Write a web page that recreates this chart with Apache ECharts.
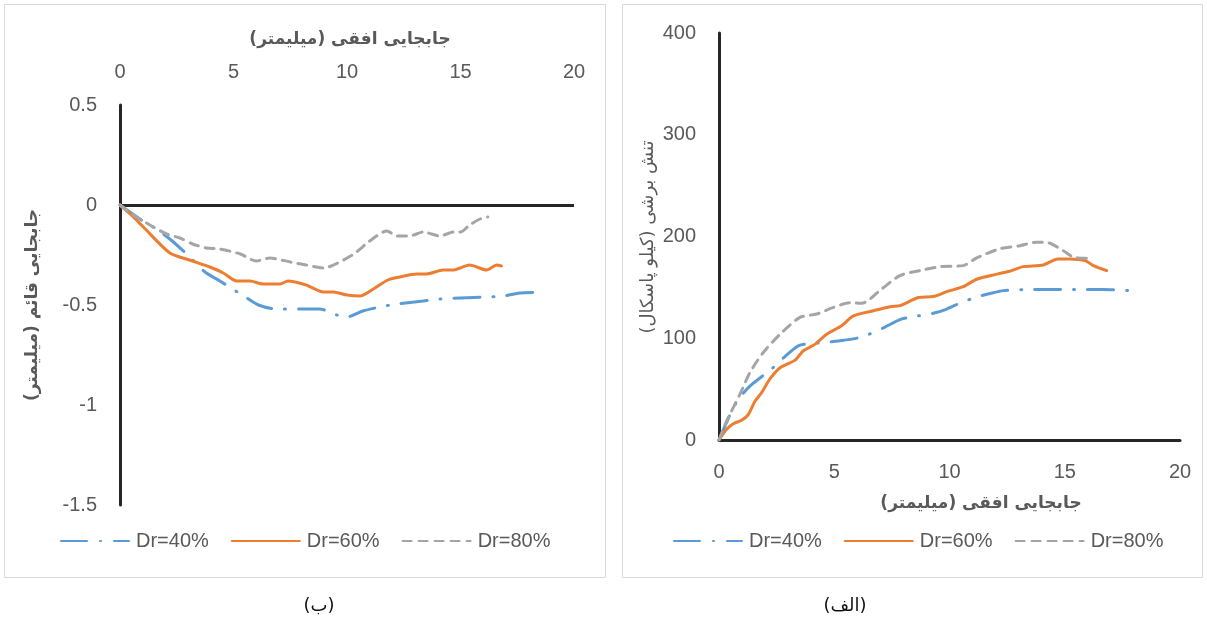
<!DOCTYPE html>
<html>
<head>
<meta charset="utf-8">
<script src="https://cdn.jsdelivr.net/npm/echarts@6.0.0/dist/echarts.min.js"></script>
<style>
  html, body { margin: 0; padding: 0; background: #fff; }
  #main { width: 1207px; height: 624px; }
</style>
</head>
<body>
<div id="main"></div>
<script>
// series names
const seriesNames = ['Dr=40%', 'Dr=60%', 'Dr=80%'];

// (ب) vertical displacement vs horizontal displacement (mm)
const vertDr40 = [[0,0],[1.0,-0.08],[1.6,-0.12],[2.3,-0.18],[3.07,-0.26],[3.74,-0.335],[4.4,-0.38],[5.45,-0.455],[6.1,-0.5],[6.9,-0.52],[7.9,-0.52],[8.8,-0.52],[9.55,-0.55],[10.0,-0.56],[10.7,-0.53],[11.45,-0.51],[12.2,-0.495],[13.36,-0.48],[14.1,-0.47],[15.0,-0.465],[16.15,-0.46],[16.9,-0.455],[17.6,-0.44],[18.2,-0.437]];
const vertDr60 = [[0,0],[0.5,-0.05],[1.03,-0.11],[2.2,-0.24],[3.2,-0.28],[3.96,-0.31],[4.55,-0.34],[5.14,-0.38],[5.73,-0.38],[6.3,-0.395],[7.05,-0.395],[7.4,-0.38],[8.2,-0.4],[8.96,-0.435],[9.4,-0.435],[10.0,-0.45],[10.57,-0.455],[11.16,-0.42],[11.8,-0.375],[12.33,-0.36],[13.07,-0.345],[13.5,-0.345],[14.24,-0.325],[14.7,-0.325],[15.4,-0.3],[16.15,-0.325],[16.6,-0.3],[16.8,-0.305]];
const vertDr80 = [[0,0],[0.59,-0.05],[1.32,-0.1],[2.05,-0.145],[2.64,-0.165],[3.2,-0.195],[3.8,-0.215],[4.4,-0.22],[5.3,-0.245],[6.0,-0.28],[6.6,-0.265],[7.5,-0.285],[8.2,-0.3],[9.0,-0.315],[9.5,-0.295],[10.3,-0.245],[11.0,-0.18],[11.75,-0.13],[12.2,-0.155],[12.76,-0.155],[13.36,-0.135],[14.1,-0.155],[14.7,-0.135],[15.0,-0.135],[15.4,-0.1],[15.86,-0.07],[16.2,-0.06]];

// (الف) shear stress (kPa) vs horizontal displacement (mm)
const shearDr40 = [[0,0],[0.48,25],[0.84,40],[1.34,53],[2.29,70],[2.86,82],[3.44,92.6],[4.09,95],[4.67,96],[5.4,98],[6.12,100.8],[6.7,105.7],[7.2,111],[7.93,119],[8.65,122],[9.3,124.5],[9.88,128.7],[10.5,135],[11.25,141],[11.76,144],[12.33,146.8],[13.2,147.8],[13.9,148],[15.08,147.8],[15.88,147.8],[16.67,147.8],[17.9,146.8]];
const shearDr60 = [[0,0],[0.33,10.5],[0.62,16],[0.98,19.4],[1.27,25],[1.56,38],[1.85,46.6],[2.21,60],[2.65,71],[3.3,78.5],[3.66,87.7],[4.16,94],[4.67,104],[5.32,112.3],[5.83,122],[6.7,127],[7.42,131],[7.85,132],[8.65,140],[9.3,141],[9.88,145.8],[10.6,150.7],[11.18,158],[12.05,163],[12.6,165.8],[13.2,170.4],[14.07,172],[14.7,178],[15.23,178],[15.88,176.4],[16.24,171.4],[16.82,166.5]];
const shearDr80 = [[0,0],[0.33,18.7],[0.91,45],[1.34,66.3],[1.92,86],[2.65,104],[3.51,120.5],[4.24,123.8],[4.96,130.3],[5.68,135],[6.19,134.3],[7.06,148.5],[7.85,161.6],[8.72,166.5],[9.59,170.4],[10.6,171.4],[11.18,179],[12.19,188],[13.06,191],[13.78,194.4],[14.29,193.8],[14.94,186],[15.38,179.6],[15.95,178.6]];

// axis text
const xTitle = 'جابجایی افقی (میلیمتر)';
const leftYTitle = 'جابجایی قائم (میلیمتر)';
const rightYTitle = 'تنش برشی (کیلو پاسکال)';
const captions = ['(ب)', '(الف)'];

const LATIN = "'Liberation Sans', 'DejaVu Sans', sans-serif";
const PERSIAN = "'DejaVu Sans', sans-serif";
const TXT = '#595959';
const AXIS = '#262626';

const lineStyles = [
    { color: '#5B9BD5', width: 3, type: [26, 13, 1, 13], cap: 'round' },
    { color: '#ED7D31', width: 3, type: 'solid', cap: 'round' },
    { color: '#A5A5A5', width: 3, type: [9, 7], cap: 'round' }
];

function makeSeries(name, data, idx, styleIdx) {
    return {
        name: name,
        type: 'line',
        xAxisIndex: idx,
        yAxisIndex: idx,
        data: data,
        smooth: 0.25,
        symbol: 'none',
        showSymbol: false,
        color: lineStyles[styleIdx].color,
        lineStyle: lineStyles[styleIdx],
        z: 3
    };
}

function valueAxis(opts) {
    return Object.assign({
        type: 'value',
        splitLine: { show: false },
        axisTick: { show: false },
        axisLabel: { color: TXT, fontSize: 20, fontFamily: LATIN, margin: 23 },
        axisLine: { show: true, onZero: false, lineStyle: { color: AXIS, width: 3 } }
    }, opts);
}

let chart = echarts.init(document.getElementById('main'), null, { renderer: 'canvas' });

let leftSeries = [
    makeSeries(seriesNames[0], vertDr40, 0, 0),
    makeSeries(seriesNames[1], vertDr60, 0, 1),
    makeSeries(seriesNames[2], vertDr80, 0, 2)
];
// black line at y = 0 in panel (ب)
leftSeries[0].markLine = {
    silent: true,
    symbol: ['none', 'none'],
    label: { show: false },
    lineStyle: { color: AXIS, width: 3, type: 'solid' },
    emphasis: { disabled: true },
    data: [{ yAxis: 0 }],
    z: 2
};

let rightSeries = [
    makeSeries(seriesNames[0], shearDr40, 1, 0),
    makeSeries(seriesNames[1], shearDr60, 1, 1),
    makeSeries(seriesNames[2], shearDr80, 1, 2)
];

let legendBase = {
    data: seriesNames,
    orient: 'horizontal',
    top: 531,
    padding: 0,
    itemWidth: 68,
    itemHeight: 14,
    itemGap: 22,
    // hide the circle that line series put in the legend icon
    itemStyle: { color: 'rgba(0,0,0,0)', borderWidth: 0, opacity: 0 },
    textStyle: { color: TXT, fontSize: 20, fontFamily: LATIN, padding: [0, 0, 0, 2] }
};

let option = {
    animation: false,
    backgroundColor: '#ffffff',
    grid: [
        { left: 120, top: 105, width: 454, height: 400 },
        { left: 719, top: 33, width: 461, height: 407 }
    ],
    xAxis: [
        valueAxis({ gridIndex: 0, position: 'top', min: 0, max: 20, interval: 5, axisLine: { show: false } }),
        valueAxis({ gridIndex: 1, position: 'bottom', min: 0, max: 20, interval: 5,
            axisLabel: { color: TXT, fontSize: 20, fontFamily: LATIN, margin: 22 } })
    ],
    yAxis: [
        valueAxis({ gridIndex: 0, min: -1.5, max: 0.5, interval: 0.5 }),
        valueAxis({ gridIndex: 1, min: 0, max: 400, interval: 100 })
    ],
    legend: [
        Object.assign({}, legendBase, { left: 60 }),
        Object.assign({}, legendBase, { left: 673 })
    ],
    series: leftSeries.concat(rightSeries),
    graphic: [
        { type: 'rect', shape: { x: 4.5, y: 4.5, width: 601, height: 573 }, style: { fill: 'none', stroke: '#d9d9d9', lineWidth: 1 }, z: -1 },
        { type: 'rect', shape: { x: 622.5, y: 4.5, width: 580, height: 573 }, style: { fill: 'none', stroke: '#d9d9d9', lineWidth: 1 }, z: -1 },
        { type: 'text', x: 350, y: 40, style: { text: xTitle, align: 'center', verticalAlign: 'middle', textAlign: 'center', textVerticalAlign: 'middle', fill: TXT, font: 'bold 17px ' + PERSIAN } },
        { type: 'text', x: 981, y: 504, style: { text: xTitle, align: 'center', verticalAlign: 'middle', textAlign: 'center', textVerticalAlign: 'middle', fill: TXT, font: 'bold 17px ' + PERSIAN } },
        { type: 'text', x: 33, y: 305, rotation: Math.PI / 2, style: { text: leftYTitle, align: 'center', verticalAlign: 'middle', textAlign: 'center', textVerticalAlign: 'middle', fill: TXT, font: 'bold 17px ' + PERSIAN } },
        { type: 'text', x: 648, y: 237, rotation: Math.PI / 2, style: { text: rightYTitle, align: 'center', verticalAlign: 'middle', textAlign: 'center', textVerticalAlign: 'middle', fill: TXT, font: '18px ' + PERSIAN } },
        { type: 'text', x: 319, y: 606, style: { text: captions[0], align: 'center', verticalAlign: 'middle', textAlign: 'center', textVerticalAlign: 'middle', fill: '#111', font: '18px ' + PERSIAN } },
        { type: 'text', x: 845, y: 606, style: { text: captions[1], align: 'center', verticalAlign: 'middle', textAlign: 'center', textVerticalAlign: 'middle', fill: '#111', font: '18px ' + PERSIAN } }
    ]
};

chart.setOption(option);
</script>
</body>
</html>
